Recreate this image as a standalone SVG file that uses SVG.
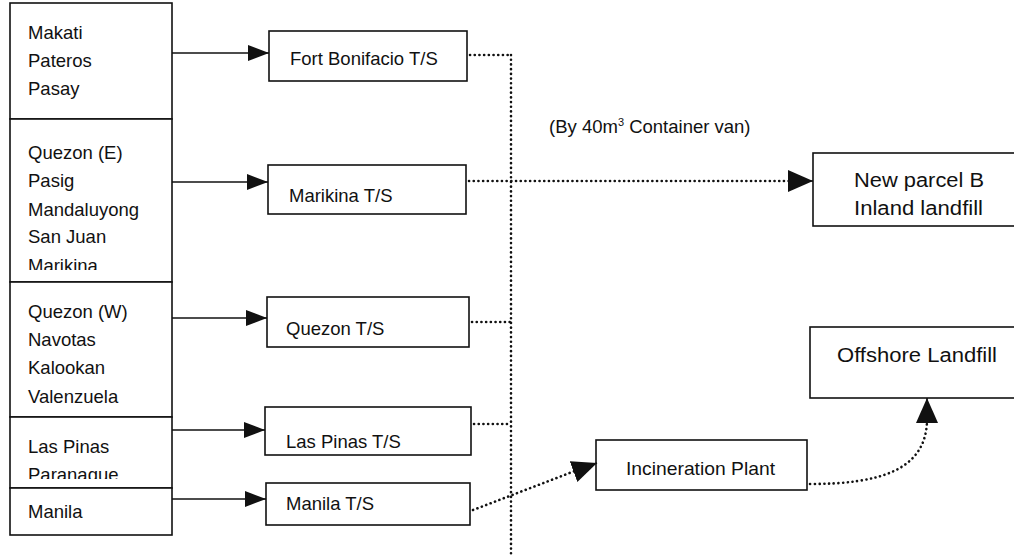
<svg xmlns="http://www.w3.org/2000/svg" width="1014" height="560" viewBox="0 0 1014 560">
<style>
.box{fill:#fff;stroke:#111;stroke-width:1.6}
.t{font-family:"Liberation Sans",Arial,sans-serif;font-size:18.5px;fill:#111}
.tr{font-family:"Liberation Sans",Arial,sans-serif;font-size:20px;fill:#111}
.solid{fill:none;stroke:#111;stroke-width:1.5}
.dot{fill:none;stroke:#111;stroke-width:2.6;stroke-linecap:round;stroke-dasharray:0.1 4.6}
</style>
<defs>
<marker id="ah" markerUnits="userSpaceOnUse" markerWidth="22" markerHeight="18" refX="21" refY="8" orient="auto">
<path d="M0,0 L21,8 L0,16 z" fill="#111"/>
</marker>
<marker id="ah2" markerUnits="userSpaceOnUse" markerWidth="26" markerHeight="24" refX="25" refY="11" orient="auto">
<path d="M0,0 L25,11 L0,22 z" fill="#111"/>
</marker>
<clipPath id="c2"><rect x="10" y="119" width="162" height="151"/></clipPath>
<clipPath id="c4"><rect x="10" y="417" width="162" height="62"/></clipPath>
</defs>

<g id="src1">
<rect class="box" x="10" y="3" width="162" height="116"/>
<text class="t" x="28" y="39">Makati</text>
<text class="t" x="28" y="67">Pateros</text>
<text class="t" x="28" y="95">Pasay</text>
</g>
<g id="src2">
<rect class="box" x="10" y="119" width="162" height="163"/>
<g clip-path="url(#c2)">
<text class="t" x="28" y="159">Quezon (E)</text>
<text class="t" x="28" y="187">Pasig</text>
<text class="t" x="28" y="216">Mandaluyong</text>
<text class="t" x="28" y="243">San Juan</text>
<text class="t" x="28" y="272">Marikina</text>
</g>
</g>
<g id="src3">
<rect class="box" x="10" y="282" width="162" height="135"/>
<text class="t" x="28" y="318">Quezon (W)</text>
<text class="t" x="28" y="346">Navotas</text>
<text class="t" x="28" y="374">Kalookan</text>
<text class="t" x="28" y="403">Valenzuela</text>
</g>
<g id="src4">
<rect class="box" x="10" y="417" width="162" height="71"/>
<g clip-path="url(#c4)">
<text class="t" x="28" y="481">Paranaque</text>
<text class="t" x="28" y="453">Las Pinas</text>
</g>
</g>
<g id="src5">
<rect class="box" x="10" y="488" width="162" height="47"/>
<text class="t" x="28" y="518">Manila</text>
</g>

<g id="ts1">
<rect class="box" x="269" y="31" width="198" height="50"/>
<text class="t" x="290" y="65">Fort Bonifacio T/S</text>
</g>
<g id="ts2">
<rect class="box" x="268" y="165" width="198" height="49"/>
<text class="t" x="289" y="202">Marikina T/S</text>
</g>
<g id="ts3">
<rect class="box" x="267" y="297" width="202" height="50"/>
<text class="t" x="286" y="335">Quezon T/S</text>
</g>
<g id="ts4">
<rect class="box" x="265" y="407" width="206" height="48"/>
<text class="t" x="286" y="448">Las Pinas T/S</text>
</g>
<g id="ts5">
<rect class="box" x="266" y="483" width="204" height="42"/>
<text class="t" x="286" y="510">Manila T/S</text>
</g>

<g id="inland">
<rect class="box" x="813" y="153" width="210" height="73"/>
<text class="tr" x="854" y="187" textLength="130" lengthAdjust="spacingAndGlyphs">New parcel B</text>
<text class="tr" x="854" y="215" textLength="129" lengthAdjust="spacingAndGlyphs">Inland landfill</text>
</g>
<g id="offshore">
<rect class="box" x="810" y="327" width="213" height="71"/>
<text class="tr" x="837" y="362" font-size="21" textLength="160" lengthAdjust="spacingAndGlyphs">Offshore Landfill</text>
</g>
<g id="incin">
<rect class="box" x="596" y="440" width="211" height="50"/>
<text class="t" x="626" y="475" textLength="149" lengthAdjust="spacingAndGlyphs">Incineration Plant</text>
</g>

<g id="label">
<text class="t" x="549" y="133" font-size="17.5">(By 40m<tspan dy="-7" font-size="11">3</tspan><tspan dy="7"> Container van)</tspan></text>
</g>

<g id="connectors">
<line class="solid" x1="172" y1="53" x2="269" y2="53" marker-end="url(#ah)"/>
<line class="solid" x1="172" y1="182" x2="268" y2="182" marker-end="url(#ah)"/>
<line class="solid" x1="172" y1="318" x2="267" y2="318" marker-end="url(#ah)"/>
<line class="solid" x1="172" y1="430" x2="265" y2="430" marker-end="url(#ah)"/>
<line class="solid" x1="172" y1="499" x2="266" y2="499" marker-end="url(#ah)"/>

<line class="dot" x1="470" y1="55" x2="511" y2="55"/>
<line class="dot" x1="511" y1="55" x2="511" y2="557"/>
<line class="dot" x1="469" y1="181" x2="795" y2="181"/>
<line class="solid" x1="795" y1="181" x2="813" y2="181" marker-end="url(#ah2)" stroke-width="0.1"/>
<line class="dot" x1="472" y1="322" x2="511" y2="322"/>
<line class="dot" x1="474" y1="424" x2="511" y2="424"/>
<line class="dot" x1="473" y1="510" x2="580" y2="469"/>
<line class="solid" x1="578" y1="470" x2="597" y2="463" marker-end="url(#ah2)" stroke-width="0.1"/>
<path class="dot" d="M810,484 C880,484 925,470 927,422"/>
<line class="solid" x1="927" y1="424" x2="927" y2="398" marker-end="url(#ah2)" stroke-width="0.1"/>
</g>
</svg>
